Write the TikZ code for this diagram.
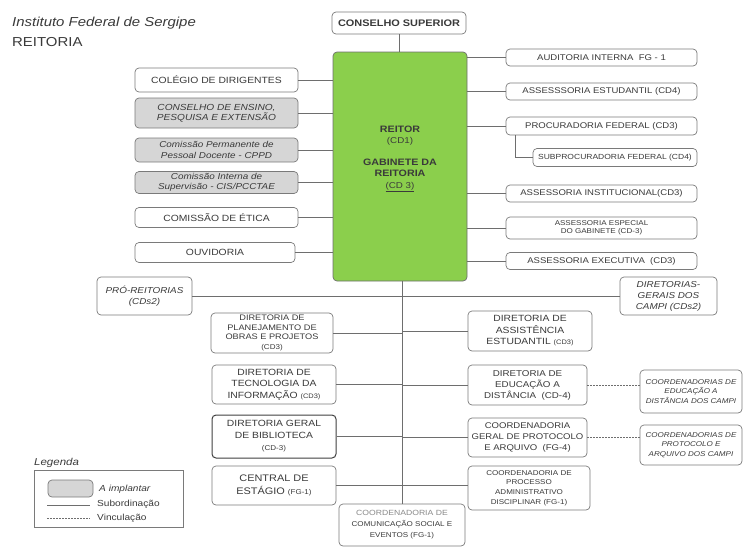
\documentclass[tikz,border=0pt]{standalone}
\usepackage{fontspec}
\setmainfont{Liberation Sans}[FakeStretch=1.15]
\usetikzlibrary{calc}
\definecolor{txt}{HTML}{3A3A3A}
\definecolor{lighttxt}{HTML}{8A8A8A}
\definecolor{bord}{HTML}{7A7A7A}
\definecolor{linec}{HTML}{6E6E6E}
\definecolor{graybox}{HTML}{D6D6D6}
\definecolor{reitorgreen}{HTML}{8BCF4C}
\newcommand\myfs[2]{\fontsize{#1}{#2}\selectfont}
\begin{document}
\begin{tikzpicture}[x=1pt,y=-1pt,
  box/.style={draw=bord, line width=0.7pt, rounded corners=4pt, fill=white, align=center, inner sep=1pt, text=txt, font=\myfs{8.3}{9.8}},
  gbox/.style={box, fill=graybox},
  sz/.style 2 args={minimum width=#1pt, minimum height=#2pt},
  conn/.style={draw=linec, line width=0.8pt},
  vinc/.style={conn, dash pattern=on 2pt off 1pt},
  plain/.style={inner sep=0pt, text=txt, align=left}
]
\useasboundingbox (0,0) rectangle (746,547);

% title
\node[plain, anchor=base west, font=\myfs{13}{15}\itshape] (title1) at (12,26.5) {Instituto Federal de Sergipe};
\node[plain, anchor=base west, font=\myfs{13}{15}] (title2) at (12,46.5) {REITORIA};

% top
\node[box, sz={134}{22}, font=\myfs{9.5}{11}\bfseries] (cs) at (399,23) {CONSELHO SUPERIOR};
\node[box, sz={134}{229}, fill=reitorgreen, draw=linec] (reitor) at (400,166.5) {};
\node[plain, align=center, font=\myfs{8.5}{11.5}] (reitortxt) at (400,159) {{\bfseries\myfs{9.3}{11.5}REITOR}\\(CD1)\\[10pt]{\bfseries\myfs{9.3}{11.5}GABINETE DA}\\{\bfseries\myfs{9.3}{11.5}REITORIA}\\\underline{(CD 3)}};

% left column
\node[box, sz={163}{24}, font=\myfs{9}{10.5}] (cdir) at (216.5,80) {COLÉGIO DE DIRIGENTES};
\node[gbox, sz={163}{30}, font=\myfs{8.8}{10}\itshape] (cens) at (216.5,113) {CONSELHO DE ENSINO,\\PESQUISA E EXTENSÃO};
\node[gbox, sz={163}{24}, font=\myfs{8.6}{10.5}\itshape] (cppd) at (216.5,150) {Comissão Permanente de\\Pessoal Docente - CPPD};
\node[gbox, sz={163}{22}, font=\myfs{8.6}{10.5}\itshape] (cis) at (216.5,182.5) {Comissão Interna de\\Supervisão - CIS/PCCTAE};
\node[box, sz={163}{20}, font=\myfs{9}{10.5}] (etica) at (216.5,217.5) {COMISSÃO DE ÉTICA};
\node[box, sz={160}{20}, font=\myfs{9}{10.5}] (ouv) at (215,252.5) {OUVIDORIA};

% right column
\node[box, sz={191}{17}] (aud) at (601.5,57.5) {AUDITORIA INTERNA~~FG - 1};
\node[box, sz={191}{17}] (aest) at (601.5,91.5) {ASSESSSORIA ESTUDANTIL (CD4)};
\node[box, sz={191}{18}] (proc) at (601.5,126) {PROCURADORIA FEDERAL (CD3)};
\node[box, sz={164}{18}, font=\myfs{7.4}{9}] (subp) at (615,157.5) {SUBPROCURADORIA FEDERAL (CD4)};
\node[box, sz={191}{17}] (ainst) at (601.5,193.5) {ASSESSORIA INSTITUCIONAL(CD3)};
\node[box, sz={191}{22}, font=\myfs{7}{8.5}] (aesp) at (601.5,228) {ASSESSORIA ESPECIAL\\DO GABINETE (CD-3)};
\node[box, sz={191}{17}] (aexe) at (601.5,261) {ASSESSORIA EXECUTIVA~~(CD3)};

% level 2
\node[box, sz={95}{38}, font=\myfs{8.6}{11}\itshape] (pro) at (144.5,296) {PRÓ-REITORIAS\\(CDs2)};
\node[box, sz={97}{38}, font=\myfs{8.6}{11}\itshape] (dgc) at (668.5,296) {DIRETORIAS-\\GERAIS DOS\\CAMPI (CDs2)};

% middle left
\node[box, sz={122}{40}, font=\myfs{8}{9.6}] (dplan) at (272,333) {DIRETORIA DE\\PLANEJAMENTO DE\\OBRAS E PROJETOS\\{\myfs{7}{8}(CD3)}};
\node[box, sz={124}{39}, font=\myfs{9}{11.5}] (dti) at (274,384.5) {DIRETORIA DE\\TECNOLOGIA DA\\INFORMAÇÃO {\myfs{6.5}{8}(CD3)}};
\node[box, sz={124}{43}, font=\myfs{9}{12}, draw=black!75, line width=1pt] (dbib) at (274,436.5) {DIRETORIA GERAL\\DE BIBLIOTECA\\{\myfs{7}{8}(CD-3)}};
\node[box, sz={124}{39}, font=\myfs{9.5}{12.5}] (cest) at (274,485.5) {CENTRAL DE\\ESTÁGIO {\myfs{7}{8}(FG-1)}};

% middle right
\node[box, sz={124}{40}, font=\myfs{9}{11.5}] (dass) at (530,331) {DIRETORIA DE\\ASSISTÊNCIA\\ESTUDANTIL {\myfs{6.5}{8}(CD3)}};
\node[box, sz={119}{40}, font=\myfs{8.5}{11}] (dead) at (527.5,385) {DIRETORIA DE\\EDUCAÇÃO A\\DISTÂNCIA~~(CD-4)};
\node[box, sz={119}{39}, font=\myfs{8.3}{11}] (cprot) at (527.5,437.5) {COORDENADORIA\\GERAL DE PROTOCOLO\\E ARQUIVO~~(FG-4)};
\node[box, sz={122}{44}, font=\myfs{7}{9.6}] (cproc) at (529,488) {COORDENADORIA DE\\PROCESSO\\ADMINISTRATIVO\\DISCIPLINAR (FG-1)};

% far right
\node[box, sz={102}{43}, font=\myfs{7}{9.5}\itshape] (ceadc) at (691,391.5) {COORDENADORIAS DE\\EDUCAÇÃO A\\DISTÂNCIA DOS CAMPI};
\node[box, sz={102}{40}, font=\myfs{7}{9.5}\itshape] (cprotc) at (691,445) {COORDENADORIAS DE\\PROTOCOLO E\\ARQUIVO DOS CAMPI};

% bottom
\node[box, sz={126}{42}, font=\myfs{7}{11}] (ccom) at (402,525) {{\color{lighttxt}\myfs{7.5}{11}COORDENADORIA DE}\\COMUNICAÇÃO SOCIAL E\\EVENTOS (FG-1)};

% connectors
\draw[conn] (cs.south) -- (cs.south |- reitor.north);
\foreach \n in {cdir,cens,cppd,cis,etica,ouv}
  \draw[conn] (\n.east) -- (\n.east -| reitor.west);
\foreach \n in {aud,aest,proc,ainst,aesp,aexe}
  \draw[conn] (\n.west) -- (\n.west -| reitor.east);
\draw[conn] ($(proc.south west)+(10,0)$) |- (subp.west);
\draw[conn] (reitor.south -| ccom.north) -- (ccom.north);
\draw[conn] (pro.east) -- (dgc.west);
\foreach \n in {dplan,dti,dbib}
  \draw[conn] (\n.east) -- (\n.east -| ccom.north);
\foreach \n in {dass,dead,cprot}
  \draw[conn] (\n.west) -- (\n.west -| ccom.north);
\draw[conn] (cest.east) -- (cest.east -| cproc.west);
\draw[vinc] (dead.east) -- (dead.east -| ceadc.west);
\draw[vinc] (cprot.east) -- (cprot.east -| cprotc.west);

% legend
\node[plain, anchor=west, font=\myfs{10}{12}\itshape] (legtitle) at (34,463) {Legenda};
\node[draw=bord, line width=0.7pt, sz={149}{57}, inner sep=0] (legbox) at (108.5,498.5) {};
\node[gbox, sz={45}{17}] (legsw) at (70.5,488.5) {};
\node[plain, anchor=west, font=\myfs{8.8}{10}\itshape] (legt1) at (99,489) {A implantar};
\node[plain, anchor=west, font=\myfs{8.8}{10}] (legt2) at (97,504) {Subordinação};
\node[plain, anchor=west, font=\myfs{8.8}{10}] (legt3) at (97,518) {Vinculação};
\coordinate (ls1) at (47,505);
\coordinate (ls2) at (90,505);
\coordinate (lv1) at (47,518);
\coordinate (lv2) at (90,518);
\draw[conn] (ls1) -- (ls2);
\draw[vinc] (lv1) -- (lv2);
\end{tikzpicture}
\end{document}
